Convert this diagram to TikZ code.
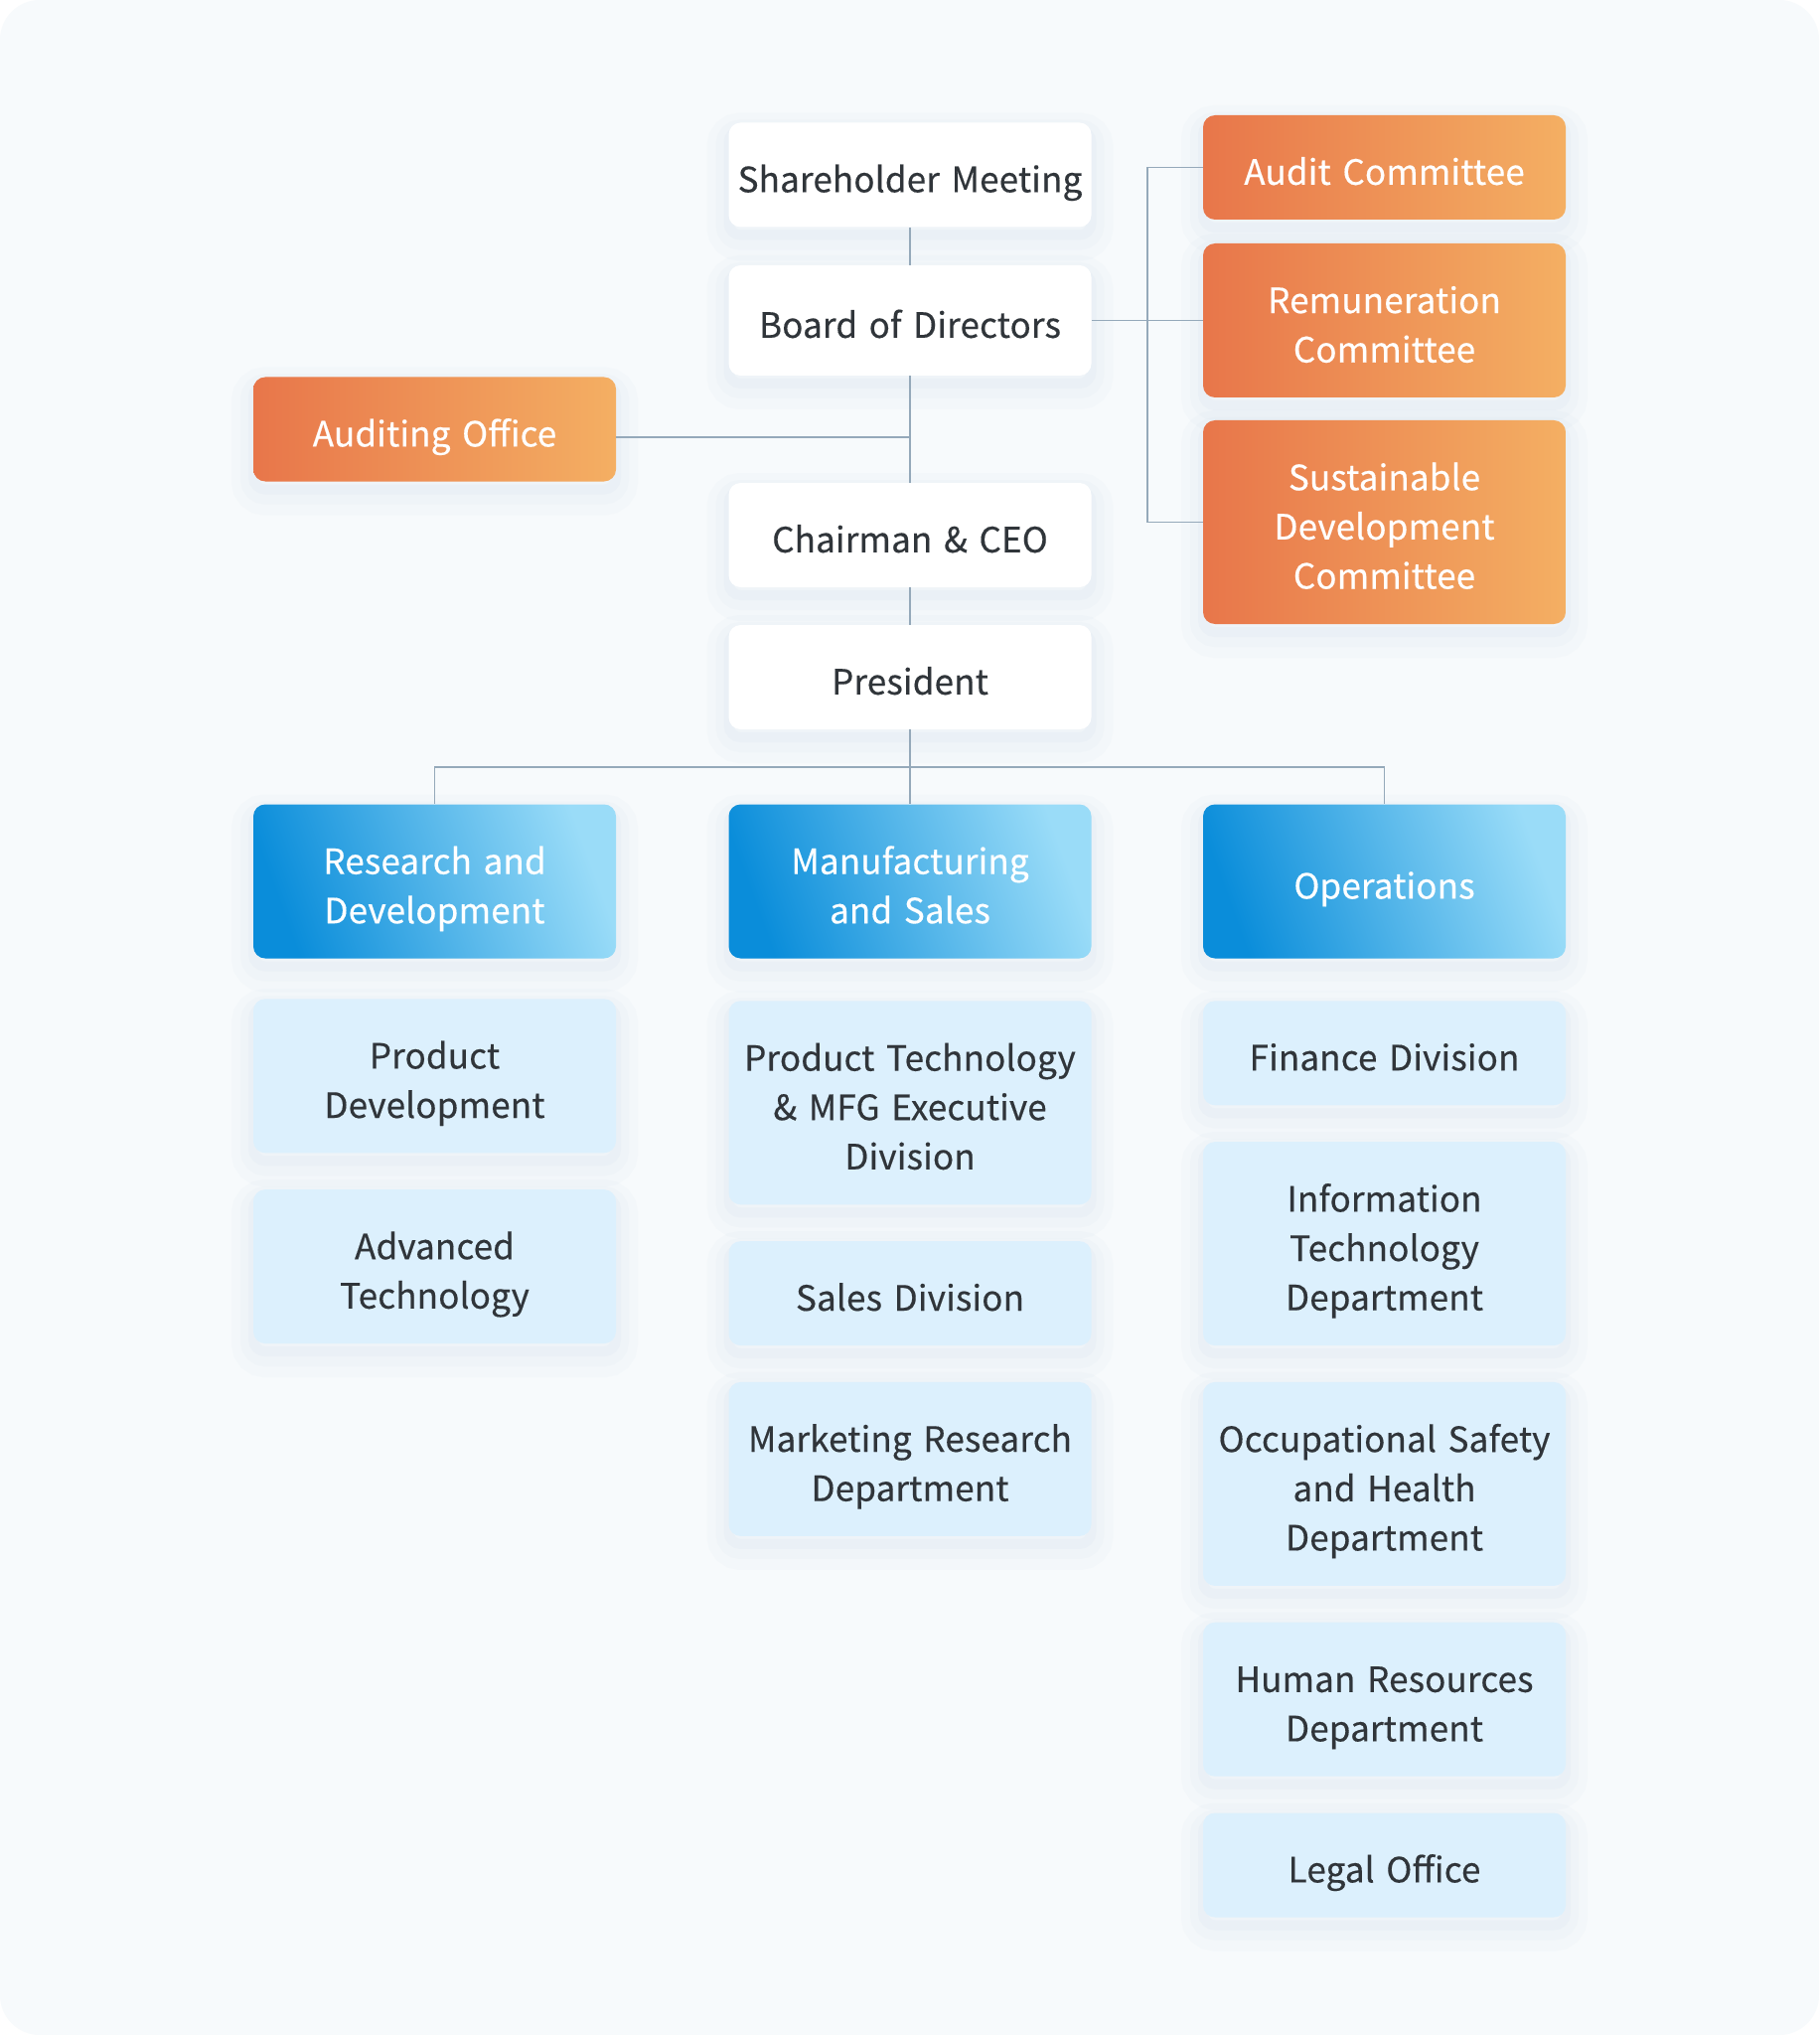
\documentclass[tikz,border=0pt]{standalone}
\usepackage{fontspec}
\setmainfont{Noto Sans CJK SC}[LetterSpace=0.5, FakeBold=0.35]
\usetikzlibrary{positioning}

\definecolor{cardbg}{HTML}{F7FAFC}
\definecolor{linec}{HTML}{95A9BA}
\definecolor{shadowc}{HTML}{8FB4D2}
\definecolor{textdark}{HTML}{30353A}
\definecolor{orangeL}{HTML}{E8764A}
\definecolor{orangeR}{HTML}{F4AF63}
\definecolor{blueD}{HTML}{0A8DDA}
\definecolor{blueL}{HTML}{9ADCF8}
\definecolor{paleblue}{HTML}{DCF0FD}

\tikzset{
  box/.style={rectangle, rounded corners=6pt, minimum width=182.5pt, minimum height=52.5pt,
    text width=182.5pt, inner xsep=0pt, align=center, font=\fontsize{17.5}{24.8}\selectfont,
    execute at begin node={\rule{0pt}{24.8pt}}, execute at end node={\rule[-7.4pt]{0pt}{7.4pt}},
    preaction={draw=shadowc, draw opacity=0.035, line width=22pt, transform canvas={yshift=-6pt}},
    preaction={draw=shadowc, draw opacity=0.04, line width=13pt, transform canvas={yshift=-5pt}},
    preaction={draw=shadowc, draw opacity=0.05, line width=5pt, transform canvas={yshift=-4pt}}},
  two/.style={minimum height=77.5pt},
  three/.style={minimum height=102.5pt},
  topbox/.style={box, fill=white, text=textdark},
  committee/.style={box, text=white, left color=orangeL, right color=orangeR},
  division/.style={box, text=white, bottom color=blueD, top color=blueL, shading angle=-70},
  unit/.style={box, fill=paleblue, text=textdark},
  link/.style={draw=linec, line width=0.7pt}
}

\begin{document}
\begin{tikzpicture}[x=0.5pt,y=-0.5pt]
  \useasboundingbox (0,0) rectangle (1831,2048);
  \fill[white] (0,0) rectangle (1831,2048);
  \fill[cardbg, rounded corners=20pt] (0,0) rectangle (1831,2048);

  \node[topbox] (share) at (916,176) {Shareholder Meeting};
  \node[topbox, minimum height=55.5pt] (board) at (916,322.5) {Board of Directors};
  \node[topbox] (chair) at (916,538.5) {Chairman \& CEO};
  \node[topbox] (pres) at (916,681.5) {President};
  \node[committee] (audoff) at (437.5,432) {Auditing Office};

  \node[committee] (audit) at (1393.5,168.5) {Audit Committee};
  \node[committee, two] (remun) at (1393.5,322.5) {Remuneration\\Committee};
  \node[committee, three] (sust) at (1393.5,525.5) {Sustainable\\Development\\Committee};

  \node[division, two] (rd) at (437.5,887) {Research and\\Development};
  \node[division, two] (ms) at (916,887) {Manufacturing\\and Sales};
  \node[division, two] (ops) at (1393.5,887) {Operations};

  \node[unit, two, below=20pt of rd] (pd) {Product\\Development};
  \node[unit, two, below=18pt of pd] (adv) {Advanced\\Technology};

  \node[unit, three, below=21pt of ms] (ptech) {Product Technology\\\& MFG Executive\\Division};
  \node[unit, below=18pt of ptech] (sales) {Sales Division};
  \node[unit, two, below=18pt of sales] (mkt) {Marketing Research\\Department};

  \node[unit, below=21pt of ops] (fin) {Finance Division};
  \node[unit, three, below=18pt of fin] (it) {Information\\Technology\\Department};
  \node[unit, three, below=18pt of it] (osh) {Occupational Safety\\and Health\\Department};
  \node[unit, two, below=18pt of osh] (hr) {Human Resources\\Department};
  \node[unit, below=18pt of hr] (legal) {Legal Office};

  \coordinate (brk) at (1155,322.5);
  \coordinate (fork) at (916,772);

  \draw[link] (share) -- (board);
  \draw[link] (board) -- (chair);
  \draw[link] (chair) -- (pres);
  \draw[link] ([yshift=-4pt]audoff.east) -- ([yshift=-4pt]audoff.east -| board.south);
  \draw[link] (board) -- (remun);
  \draw[link] (audit.west) -| (brk) |- (sust.west);
  \draw[link] (pres) -- (ms);
  \draw[link] (rd.north) |- (fork) -| (ops.north);
\end{tikzpicture}
\end{document}
